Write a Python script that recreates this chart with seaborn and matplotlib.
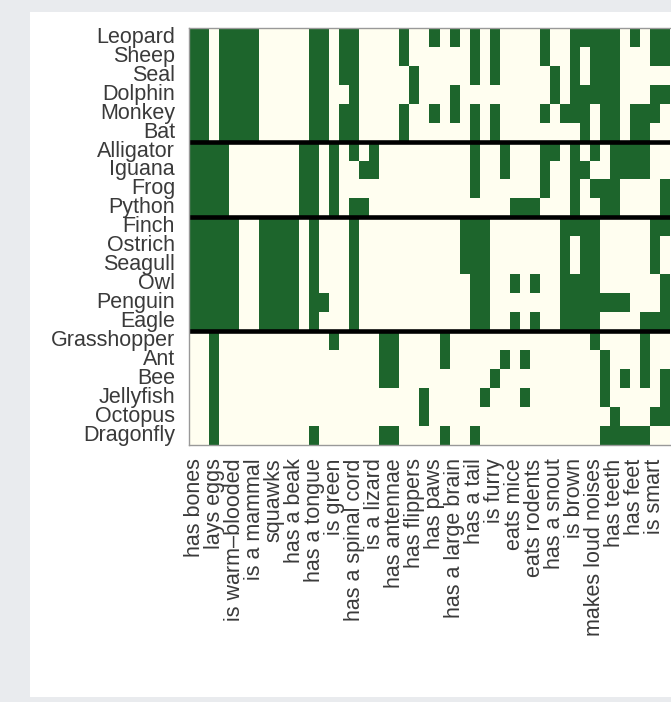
import numpy as np
import pandas as pd
import matplotlib
matplotlib.use("Agg")
import matplotlib.pyplot as plt
from matplotlib.colors import ListedColormap
import seaborn as sns

# Animals in display order, grouped by class
mammals = ["Leopard", "Sheep", "Seal", "Dolphin", "Monkey", "Bat"]
reptiles = ["Alligator", "Iguana", "Frog", "Python"]
birds = ["Finch", "Ostrich", "Seagull", "Owl", "Penguin", "Eagle"]
bugs = ["Grasshopper", "Ant", "Bee", "Jellyfish", "Octopus", "Dragonfly"]

# Labels carried by every other feature column
feature_labels = [
    "has bones", "lays eggs", "is warm\u2013blooded", "is a mammal", "squawks",
    "has a beak", "has a tongue", "is green", "has a spinal cord", "is a lizard",
    "has antennae", "has flippers", "has paws", "has a large brain", "has a tail",
    "is furry", "eats mice", "eats rodents", "has a snout", "is brown",
    "makes loud noises", "has teeth", "has feet", "is smart",
]

# Binary feature values (1 = animal has the feature), 48 feature columns
mammal_rows = [
    "11011110 00001101 10000100 10101010 00010011 11101011",
    "11011110 00001101 10000100 00001010 00010010 11100011",
    "11011110 00001101 10000010 00001010 00001010 11100000",
    "11011110 00001100 10000010 00100000 00001011 11100011",
    "11011110 00001101 10000100 10101010 00010111 01101110",
    "11011110 00001101 10000100 00001010 00000001 01101100",
]
reptile_rows = [
    "11110000 00011010 10100000 00001001 00011010 10111100",
    "11110000 00011010 01100000 00001001 00010011 00111100",
    "11110000 00011010 00000000 00001000 00010010 11100001",
    "11110000 00011010 11000000 00000000 11100010 01100001",
]
bird_rows = [
    "11111001 11101000 10000000 00011100 00000111 10000011",
    "11111001 11101000 10000000 00011100 00000101 10000010",
    "11111001 11101000 10000000 00011100 00000101 10000010",
    "11111001 11101000 10000000 00001100 10100111 10000001",
    "11111001 11101100 10000000 00001100 00000111 11110001",
    "11111001 11101000 10000000 00001100 10100111 10000111",
]
bug_rows = [
    "00100000 00000010 00011000 01000000 00000000 10000100",
    "00100000 00000000 00011000 01000001 01000000 01000100",
    "00100000 00000000 00011000 00000010 00000000 01010101",
    "00100000 00000000 00000001 00000100 01000000 01000001",
    "00100000 00000000 00000001 00000000 00000000 00100011",
    "00100000 00001000 00011000 01001000 00000000 01111100",
]

animals = mammals + reptiles + birds + bugs
rows = mammal_rows + reptile_rows + bird_rows + bug_rows
matrix = np.array([[int(c) for c in r.replace(" ", "")] for r in rows])
df = pd.DataFrame(matrix, index=animals)

green = "#1d652c"
cream = "#fffef0"
text_color = "#3a3a3a"

sns.set_theme(style="white")
plt.rcParams["font.family"] = ["Liberation Sans", "DejaVu Sans"]

W, H = 671, 702
fig = plt.figure(figsize=(W / 100, H / 100), dpi=100)
fig.patch.set_facecolor("#e9ebee")

# White card behind the chart
card = fig.add_axes([30 / W, 5 / H, 641 / W, 685 / H], zorder=-5)
card.set_facecolor("white")
card.set_xticks([])
card.set_yticks([])
for s in card.spines.values():
    s.set_visible(False)

ax = fig.add_axes([189 / W, 1 - 444.5 / H, 481 / W, 416.5 / H], zorder=1)
sns.heatmap(df, ax=ax, cmap=ListedColormap([cream, green]), vmin=0, vmax=1,
            cbar=False, xticklabels=False, yticklabels=animals, linewidths=0)

ax.set_xticks(np.arange(0, matrix.shape[1], 2) + 0.5)
ax.set_xticklabels(feature_labels, rotation=90)
ax.set_yticklabels(animals, rotation=0)
ax.tick_params(axis="both", length=0, labelsize=15.5, colors=text_color)
ax.tick_params(axis="y", pad=10)
ax.tick_params(axis="x", pad=10)
ax.set_xlabel("")
ax.set_ylabel("")

# Group separators between mammals, reptiles, birds and invertebrates
boundaries = np.cumsum([len(mammals), len(reptiles), len(birds)])
for b in boundaries:
    ax.axhline(b, color="black", lw=3.3)

for side in ["top", "left", "bottom"]:
    ax.spines[side].set_visible(True)
    ax.spines[side].set_color("#999999")
    ax.spines[side].set_linewidth(1.0)
ax.spines["right"].set_visible(False)

fig.savefig("out.png", dpi=100, facecolor=fig.get_facecolor())
